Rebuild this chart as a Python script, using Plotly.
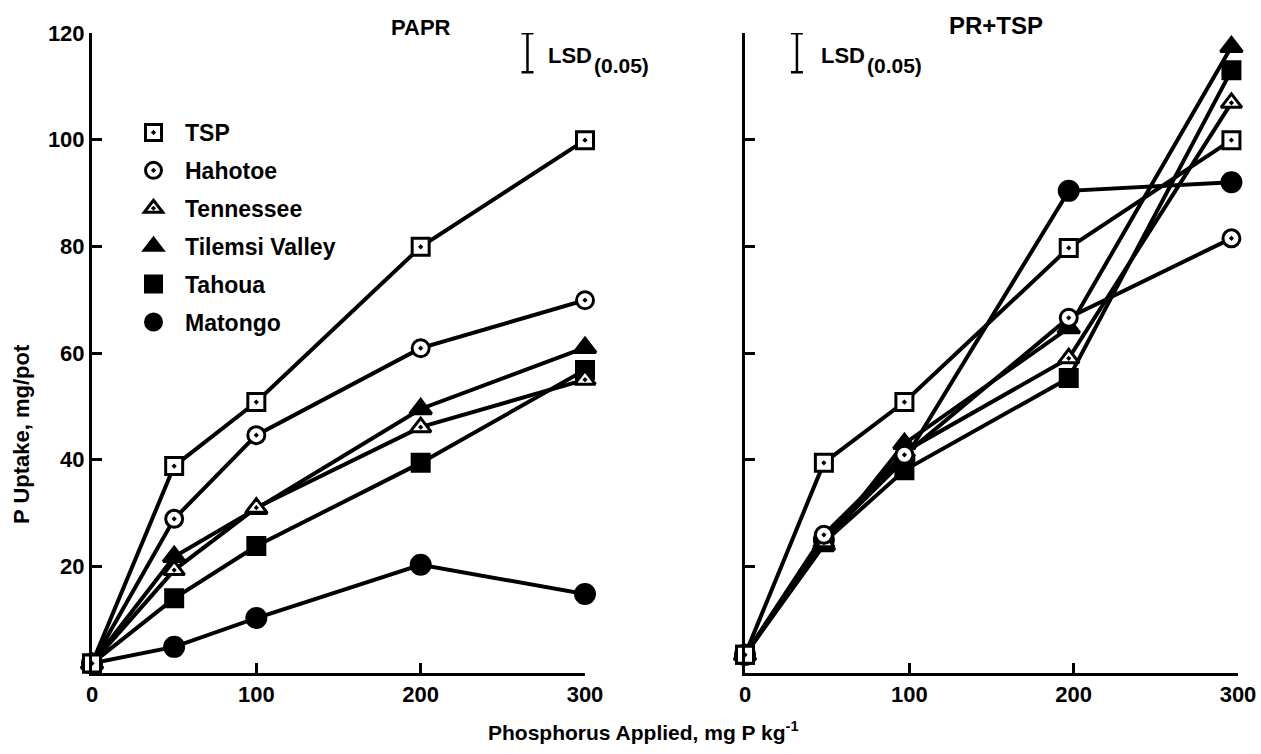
import plotly.graph_objects as go

# ---------------- data ----------------
x_papr = [0, 50, 100, 200, 300]
x_prtsp = [0, 48, 97, 197, 296]

series_names = ["TSP", "Hahotoe", "Tennessee", "Tilemsi Valley", "Tahoua", "Matongo"]

papr_tsp = [1.8, 38.8, 50.8, 79.9, 99.9]
papr_hahotoe = [1.8, 28.9, 44.6, 60.9, 69.9]
papr_tennessee = [1.8, 19.3, 31.0, 46.1, 55.0]
papr_tilemsi = [1.8, 21.8, 30.8, 49.5, 61.0]
papr_tahoua = [1.8, 14.0, 23.8, 39.4, 56.8]
papr_matongo = [1.8, 4.9, 10.3, 20.3, 14.8]

prtsp_tsp = [3.4, 39.4, 50.8, 79.7, 99.9]
prtsp_hahotoe = [3.4, 25.9, 40.9, 66.6, 81.5]
prtsp_tennessee = [3.4, 24.5, 41.5, 59.0, 106.9]
prtsp_tilemsi = [3.4, 24.0, 43.0, 64.7, 117.4]
prtsp_tahoua = [3.4, 24.5, 38.0, 55.3, 113.0]
prtsp_matongo = [3.4, 25.0, 40.0, 90.4, 92.0]

lsd_half = 3.65
lsd_papr_pos = (265, 116.3)
lsd_prtsp_pos = (31.6, 116.3)

y_ticks = [20, 40, 60, 80, 100, 120]
x_ticks = [0, 100, 200, 300]

# ---------------- styles ----------------
FONT = "Liberation Sans, Arial, sans-serif"
styles = {
    "TSP": dict(symbol="square-dot", size=17, color="white"),
    "Hahotoe": dict(symbol="circle-dot", size=17, color="white"),
    "Tennessee": dict(symbol="triangle-up-dot", size=18, color="white"),
    "Tilemsi Valley": dict(symbol="triangle-up", size=19, color="black"),
    "Tahoua": dict(symbol="square", size=17, color="black"),
    "Matongo": dict(symbol="circle", size=19, color="black"),
}

papr = [papr_tsp, papr_hahotoe, papr_tennessee, papr_tilemsi, papr_tahoua, papr_matongo]
prtsp = [prtsp_tsp, prtsp_hahotoe, prtsp_tennessee, prtsp_tilemsi, prtsp_tahoua, prtsp_matongo]

fig = go.Figure()

draw_order = [5, 4, 3, 2, 1, 0]
for panel, (xv, data, xa, ya) in enumerate([(x_papr, papr, "x", "y"), (x_prtsp, prtsp, "x2", "y2")]):
    for i in draw_order:
        name = series_names[i]
        st = styles[name]
        fig.add_trace(go.Scatter(
            x=xv, y=data[i], mode="lines+markers", name=name,
            xaxis=xa, yaxis=ya, showlegend=False, cliponaxis=False,
            line=dict(color="black", width=4),
            marker=dict(symbol=st["symbol"], size=st["size"], color=st["color"],
                        line=dict(color="black", width=3)),
        ))

# legend entries (markers only)
for i, name in enumerate(series_names):
    st = styles[name]
    fig.add_trace(go.Scatter(
        x=[None], y=[None], mode="markers", name=name, legendgroup=name,
        xaxis="x", yaxis="y", showlegend=True,
        marker=dict(symbol=st["symbol"], size=st["size"], color=st["color"],
                    line=dict(color="black", width=3)),
    ))

# LSD bars
for (lx, ly), xa, ya in [(lsd_papr_pos, "x", "y"), (lsd_prtsp_pos, "x2", "y2")]:
    fig.add_trace(go.Scatter(
        x=[lx], y=[ly], mode="markers", xaxis=xa, yaxis=ya, showlegend=False,
        marker=dict(size=1, color="black"), cliponaxis=False,
        error_y=dict(type="constant", value=lsd_half, color="black", thickness=2.5, width=6),
    ))

ydom = [81 / 754, 721 / 754]
axis_common = dict(showline=True, linecolor="black", linewidth=3, ticks="inside",
                   ticklen=10, tickwidth=3, tickcolor="black", showgrid=False,
                   zeroline=False, mirror=False, automargin=False)
tickfont = dict(family=FONT, size=22, color="black", weight=700)


def txt(text, px, py, size, xanchor="center", angle=0):
    return dict(text=f"<b>{text}</b>", x=px / 1261, y=1 - py / 754, xref="paper", yref="paper",
                xanchor=xanchor, yanchor="middle", textangle=angle, showarrow=False,
                font=dict(family=FONT, size=size, color="black"))


fig.update_layout(
    template="none",
    width=1261, height=754,
    margin=dict(l=0, r=0, t=0, b=0, autoexpand=False),
    paper_bgcolor="white", plot_bgcolor="white",
    font=dict(family=FONT, color="black"),
    xaxis=dict(domain=[92 / 1261, 585 / 1261], range=[0, 300], tickvals=x_ticks,
               tickfont=tickfont, anchor="y", **axis_common),
    yaxis=dict(domain=ydom, range=[0, 120], tickvals=y_ticks, tickfont=tickfont,
               anchor="x", **axis_common),
    xaxis2=dict(domain=[745 / 1261, 1238 / 1261], range=[0, 300], tickvals=x_ticks,
                tickfont=tickfont, anchor="y2", **axis_common),
    yaxis2=dict(domain=ydom, range=[0, 120], tickvals=y_ticks, showticklabels=False,
                anchor="x2", **axis_common),
    legend=dict(x=122 / 1261, y=1 - 111 / 754, xanchor="left", yanchor="top",
                font=dict(family=FONT, size=23, color="black", weight=700),
                bgcolor="rgba(0,0,0,0)", tracegroupgap=5, traceorder="grouped",
                itemwidth=53),
    annotations=[
        txt("PAPR", 421, 27, 22),
        txt("PR+TSP", 996, 26, 24),
        txt("LSD", 546, 55, 22, "left"),
        txt("(0.05)", 592, 65, 21, "left"),
        txt("LSD", 819, 55, 22, "left"),
        txt("(0.05)", 865, 65, 21, "left"),
        txt("P Uptake, mg/pot", 21, 434, 22, angle=-90),
        txt("Phosphorus Applied, mg P kg<sup>-1</sup>", 643, 731, 21),
    ],
)

fig.write_html("out.html")
